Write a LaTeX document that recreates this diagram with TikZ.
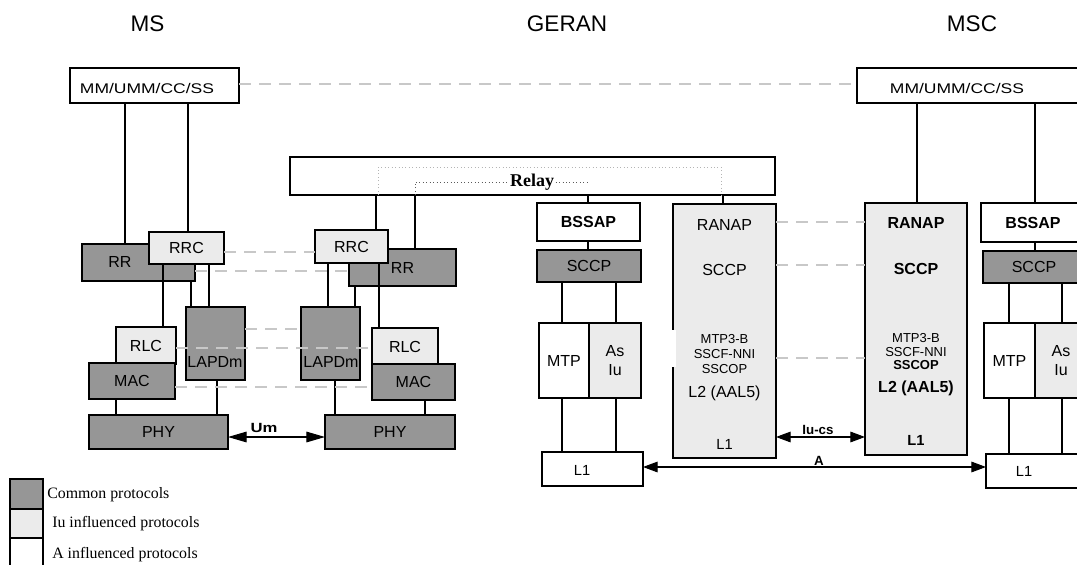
\documentclass[tikz,border=0pt]{standalone}
\usepackage{fontspec}
\usepackage{graphicx}
\setmainfont{Liberation Sans}
\newfontfamily\legendfont{Liberation Serif}
\usetikzlibrary{arrows.meta}
\definecolor{commongray}{RGB}{150,150,150}
\definecolor{iugray}{RGB}{235,235,235}
\definecolor{peergray}{RGB}{200,200,200}
\definecolor{relaylt}{RGB}{180,180,180}
\definecolor{relaydk}{RGB}{90,90,90}
\newcommand{\widetxt}[1]{\scalebox{1.25}[1]{#1}}
\tikzset{
  prot/.style = {draw=black, line width=1.1pt, inner sep=0pt, outer sep=0pt, align=center, font=\fontsize{12}{14}\selectfont},
  prot_d/.style = {prot, fill=commongray},
  prot_l/.style = {prot, fill=iugray},
  prot_w/.style = {prot, fill=white},
  wh/.style 2 args = {minimum width=#1*0.75pt, minimum height=#2*0.75pt},
  txt/.style = {inner sep=0pt, align=center, font=\fontsize{12}{14}\selectfont},
  txt_b/.style = {txt, font=\fontsize{12}{14}\selectfont\bfseries},
  txt_s/.style = {txt, font=\fontsize{9.75}{11}\selectfont},
  txt_l1/.style = {txt, font=\fontsize{11}{13}\selectfont},
  txt_mm/.style = {txt, font=\fontsize{10.5}{12}\selectfont},
  title/.style = {inner sep=0pt, font=\fontsize{16.9}{20}\selectfont},
  lbl/.style = {inner sep=0pt, font=\fontsize{10}{12}\selectfont\bfseries},
  legend_txt/.style = {inner sep=0pt, anchor=west, font=\legendfont\fontsize{11.9}{14}\selectfont},
  con/.style = {line width=0.8pt},
  peer/.style = {draw=peergray, line width=1.5pt, dash pattern=on 9pt off 6pt},
  relay_o/.style = {draw=relaylt, line width=0.6pt, dotted},
  relay_i/.style = {draw=relaydk, line width=0.6pt, dotted},
  iface/.style = {line width=0.8pt, <->, >={Triangle[length=14pt,width=8pt]}},
  iface_s/.style = {iface, >={Triangle[length=11pt,width=8pt]}}
}

\begin{document}
\begin{tikzpicture}[x=0.75pt, y=-0.75pt]
	\useasboundingbox (0,0) rectangle (1077,564);
	\clip (0,0) rectangle (1077,564);

	\node[title] (t_ms) at (147.5,24) {MS};
	\node[title] (t_geran) at (567,24) {GERAN};
	\node[title] (t_msc) at (972,24) {MSC};

	\node[prot_w, wh={169}{35}] (mm_l) at (154.5,85.5) {};
	\node[prot_d, wh={113}{37}] (rr_l) at (138.5,262.5) {};
	\node[prot_l, wh={75}{32}] (rrc_l) at (186.5,248) {RRC};
	\node[prot_l, wh={60}{37}] (rlc_l) at (146,345.5) {RLC};
	\node[prot_d, wh={86}{36}] (mac_l) at (132,381) {MAC};
	\node[prot_d, wh={59}{73}] (lapdm_l) at (215.5,343.5) {};
	\node[prot_d, wh={139}{34}] (phy_l) at (158.5,432) {PHY};

	\node[prot_w, wh={485}{38}] (relay) at (532.5,176) {};
	\node[prot_d, wh={107}{37}] (rr_r) at (402.5,267.5) {RR};
	\node[prot_l, wh={73}{33}] (rrc_r) at (351.5,246.5) {RRC};
	\node[prot_d, wh={59}{73}] (lapdm_r) at (330.5,343.5) {};
	\node[prot_l, wh={66}{37}] (rlc_r) at (405,346.5) {RLC};
	\node[prot_d, wh={83}{36}] (mac_r) at (413.5,382) {MAC};
	\node[prot_d, wh={130}{34}] (phy_r) at (390,432) {PHY};

	\node[prot_w, wh={103}{38}, font=\fontsize{12}{14}\selectfont\bfseries] (bssap_g) at (588.5,222) {BSSAP};
	\node[prot_d, wh={104}{32}] (sccp_g) at (589,266) {SCCP};
	\node[prot_w, wh={50}{75}] (mtp_g) at (564,360.5) {MTP};
	\node[prot_l, wh={52}{75}] (asiu_g) at (615,360.5) {As\\Iu};
	\node[prot_w, wh={101}{34}] (l1_g) at (592.5,469) {};
	\node[prot_l, wh={103}{254}] (ranap_g) at (724.5,331) {};
	\fill[white] (671.5,330) rectangle (676,367);

	\node[prot_w, wh={238}{35}] (mm_m) at (976,85.5) {};
	\node[prot_l, wh={102}{252}] (ranap_m) at (916,329) {};
	\node[prot_w, wh={104}{39}, font=\fontsize{12}{14}\selectfont\bfseries] (bssap_m) at (1033,222.5) {BSSAP};
	\node[prot_d, wh={102}{32}] (sccp_m) at (1034,267) {SCCP};
	\node[prot_w, wh={51}{75}] (mtp_m) at (1009.5,360.5) {MTP};
	\node[prot_l, wh={52}{75}] (asiu_m) at (1061,360.5) {As\\Iu};
	\node[prot_w, wh={104}{34}] (l1_m) at (1038,471) {};

	\node[prot_d, wh={33}{30}] (lg_c) at (26.5,494) {};
	\node[prot_l, wh={33}{29}] (lg_i) at (26.5,523.5) {};
	\node[prot_w, wh={33}{32}] (lg_a) at (26.5,554) {};

	\foreach \x/\a/\b in {125/mm_l/rr_l, 188/mm_l/rrc_l, 163/rrc_l/rlc_l, 191/rr_l/lapdm_l, 209/rrc_l/lapdm_l,
		116/mac_l/phy_l, 217/lapdm_l/phy_l, 376/relay/rrc_r, 415/relay/rr_r, 328/rrc_r/lapdm_r,
		355/rr_r/lapdm_r, 379/rrc_r/rlc_r, 335/lapdm_r/phy_r, 425/mac_r/phy_r, 588/relay/bssap_g,
		588/bssap_g/sccp_g, 562/sccp_g/mtp_g, 616/sccp_g/asiu_g, 562/mtp_g/l1_g, 616/asiu_g/l1_g,
		723/relay/ranap_g, 917/mm_m/ranap_m, 1035/mm_m/bssap_m, 1035/bssap_m/sccp_m, 1009/sccp_m/mtp_m,
		1062/sccp_m/asiu_m, 1009/mtp_m/l1_m, 1062/asiu_m/l1_m}
		\draw[con] (\x,0 |- \a.south) -- (\x,0 |- \b.north);

	\foreach \y/\a/\b in {84/mm_l/mm_m, 252/rrc_l/rrc_r, 271/rr_l/rr_r, 329/lapdm_l/lapdm_r,
		348/rlc_l/rlc_r, 387/mac_l/mac_r, 222/ranap_g/ranap_m, 265/ranap_g/ranap_m, 358/ranap_g/ranap_m}
		\draw[peer] (\a.east |- 0,\y) -- (\b.west |- 0,\y);

	\node[inner sep=1pt, font=\legendfont\fontsize{13.5}{16}\selectfont\bfseries] (relay_t) at (532,182) {Relay};
	\draw[relay_o] (378,0 |- relay.south) |- (721,167) -- (721,0 |- relay.south);
	\draw[relay_i] (415,0 |- relay.south) |- (relay_t.west);
	\draw[relay_i] (relay_t.east) -- (588,0 |- relay_t.east);

	\draw[iface] (phy_l.east |- 0,437) -- (phy_r.west |- 0,437);
	\node[lbl] (um) at (264,428) {\widetxt{Um}};
	\draw[iface_s] (ranap_g.east |- 0,437) -- (ranap_m.west |- 0,437);
	\node[lbl] (iucs) at (818,430) {Iu-cs};
	\draw[iface_s] (l1_g.east |- 0,467) -- (l1_m.west |- 0,467);
	\node[lbl] (a_lbl) at (819,461) {A};

	\node[txt_mm] (mm_l_t) at (147,88) {\widetxt{MM/UMM/CC/SS}};
	\node[txt_mm] (mm_m_t) at (957,88) {\widetxt{MM/UMM/CC/SS}};
	\node[txt] (rr_l_t) at (120,262) {RR};
	\node[txt] (lapdm_l_t) at (215,362) {LAPDm};
	\node[txt] (lapdm_r_t) at (331,362) {LAPDm};
	\node[txt_l1] (l1_g_t) at (582,470) {L1};
	\node[txt_l1] (l1_m_t) at (1024,471) {L1};

	\node[txt] (ranap_g_1) at (724.5,225) {RANAP};
	\node[txt] (ranap_g_2) at (724.5,270) {SCCP};
	\node[txt_s] (ranap_g_3) at (724.5,354) {MTP3-B\\SSCF-NNI\\SSCOP};
	\node[txt] (ranap_g_4) at (724.5,393) {L2 (AAL5)};
	\node[txt_l1] (ranap_g_5) at (724.5,444) {L1};

	\node[txt_b] (ranap_m_1) at (916,223) {RANAP};
	\node[txt_b] (ranap_m_2) at (916,269) {SCCP};
	\node[txt_s] (ranap_m_3) at (916,345) {MTP3-B\\SSCF-NNI};
	\node[txt_s, font=\fontsize{9.75}{11}\selectfont\bfseries] (ranap_m_4) at (916,365) {SSCOP};
	\node[txt_b] (ranap_m_5) at (916,388) {L2 (AAL5)};
	\node[txt_b, font=\fontsize{11}{13}\selectfont\bfseries] (ranap_m_6) at (916,440) {L1};

	\node[legend_txt] (lg_c_t) at (47,495) {Common protocols};
	\node[legend_txt] (lg_i_t) at (52,524) {Iu influenced protocols};
	\node[legend_txt] (lg_a_t) at (52,555) {A influenced protocols};
\end{tikzpicture}
\end{document}
